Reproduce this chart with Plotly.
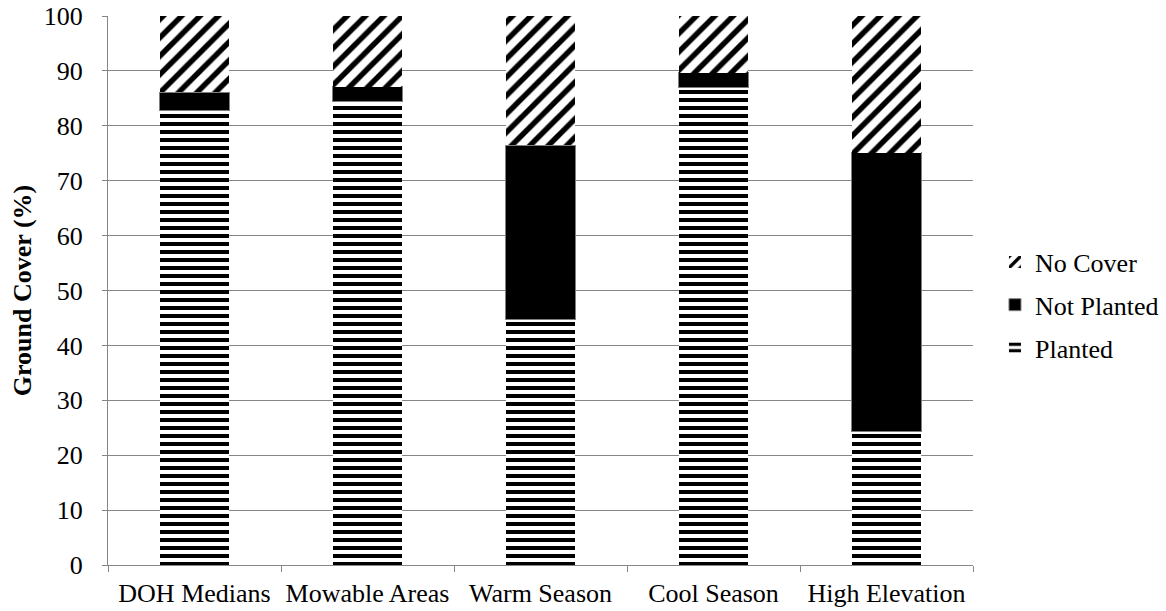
import plotly.graph_objects as go

categories = ["DOH Medians", "Mowable Areas", "Warm Season", "Cool Season", "High Elevation"]
planted = [82.8, 84.5, 44.8, 87.0, 24.3]
not_planted = [3.3, 2.6, 31.7, 2.7, 50.8]
no_cover = [13.9, 12.9, 23.5, 10.3, 24.9]

FAM = "Liberation Serif"
F = dict(family=FAM, size=26, color="black")

fig = go.Figure()
fig.add_trace(go.Bar(
    name="Planted", x=categories, y=planted, legendgroup="a", legendrank=3,
    marker=dict(color="white", line=dict(width=0),
                pattern=dict(shape="-", size=8, solidity=0.5, fgcolor="black", bgcolor="white", fillmode="replace")),
))
fig.add_trace(go.Bar(
    name="Not Planted", x=categories, y=not_planted, legendgroup="b", legendrank=2,
    marker=dict(color="black", line=dict(color="#7f7f7f", width=1)),
))
fig.add_trace(go.Bar(
    name="No Cover", x=categories, y=no_cover, legendgroup="c", legendrank=1,
    marker=dict(color="white", line=dict(width=0),
                pattern=dict(shape="/", size=13, solidity=0.42, fgcolor="black", bgcolor="white", fillmode="replace")),
))

fig.update_layout(
    barmode="stack",
    bargap=0.6,
    width=1166, height=611,
    margin=dict(l=108, r=193, t=16, b=46, autoexpand=False),
    plot_bgcolor="white", paper_bgcolor="white",
    font=F,
    legend=dict(traceorder="grouped", x=1.0254, xanchor="left", y=0.4736, yanchor="middle",
                font=F, itemwidth=30, tracegroupgap=6),
    xaxis=dict(showline=True, linecolor="#868686", linewidth=1, ticks="outside", tickson="boundaries",
               ticklen=6, tickcolor="#868686", showgrid=False, tickfont=F, automargin=False,
               ticklabelstandoff=5),
    yaxis=dict(range=[0, 100], dtick=10, showline=True, linecolor="#868686", linewidth=1,
               ticks="outside", ticklen=5, tickcolor="#868686", showgrid=True, gridcolor="#868686",
               gridwidth=1, tickfont=F, zeroline=False, automargin=False, ticklabelstandoff=14,
               title=dict(text="<b>Ground Cover (%)</b>", font=F, standoff=4)),
)

fig.write_html("out.html")
